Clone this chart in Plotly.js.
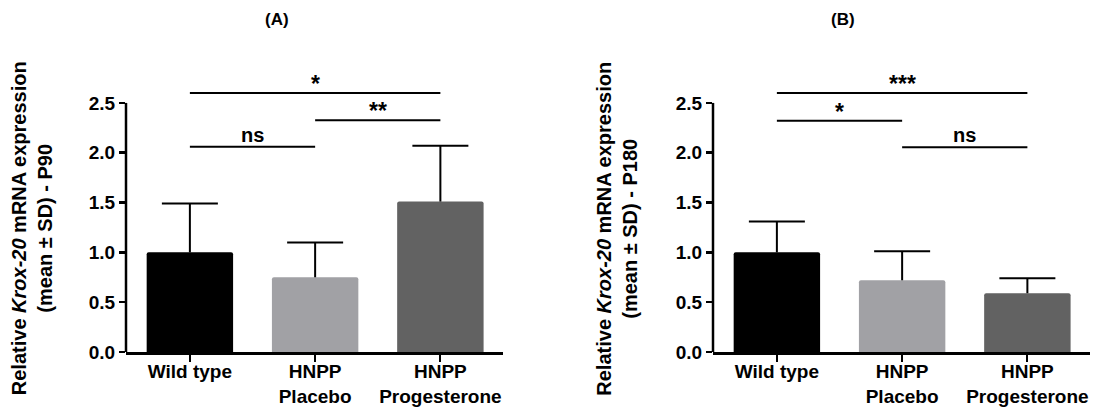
<!DOCTYPE html>
<html>
<head>
<meta charset="utf-8">
<script src="https://cdn.plot.ly/plotly-3.0.1.min.js"></script>
<style>html,body{margin:0;padding:0;background:#fff;}#chart{width:1093px;height:408px;}</style>
</head>
<body>
<div id="chart"></div>
<script>
// ---- data ----
const categories = ['Wild type', 'HNPP<br>Placebo', 'HNPP<br>Progesterone'];
const barColors = ['#000000', '#a1a1a5', '#626262'];

const meanA = [1.0, 0.75, 1.51];
const sdA = [0.49, 0.35, 0.56];
const meanB = [1.0, 0.72, 0.59];
const sdB = [0.31, 0.29, 0.15];

const yTickVals = [0, 0.5, 1.0, 1.5, 2.0, 2.5];
const yTickText = ['0.0', '0.5', '1.0', '1.5', '2.0', '2.5'];

// significance brackets (category index from/to, height in y units, label)
const sigFromA = [0, 1, 0];
const sigToA = [2, 2, 1];
const sigYA = [2.60, 2.325, 2.06];
const sigLabelA = ['*', '**', 'ns'];

const sigFromB = [0, 0, 1];
const sigToB = [2, 1, 2];
const sigYB = [2.60, 2.32, 2.055];
const sigLabelB = ['***', '*', 'ns'];

const panelTitles = ['(A)', '(B)'];
const yTitles = [
  'Relative <i>Krox-20</i> mRNA expression<br>(mean ± SD) - P90',
  'Relative <i>Krox-20</i> mRNA expression<br>(mean ± SD) - P180'
];

// ---- build ----
const FONT = 'Liberation Sans, Arial, sans-serif';
const traces = [];
const shapes = [];
const annotations = [];

function addPanel(mean, sd, xa, ya, sigFrom, sigTo, sigY, sigLabel) {
  const zeros = mean.map(() => 0);
  const tops = mean.map((m, i) => m + sd[i]);
  traces.push({
    type: 'bar', x: categories, y: mean, xaxis: xa, yaxis: ya,
    width: 0.69,
    marker: {color: barColors, line: {width: 0}, cornerradius: 2},
    error_y: {type: 'data', symmetric: false, array: sd, arrayminus: zeros,
              color: '#000', thickness: 2, width: 0},
    hoverinfo: 'y', showlegend: false
  });
  traces.push({
    type: 'scatter', mode: 'markers', x: categories, y: tops, xaxis: xa, yaxis: ya,
    marker: {symbol: 'line-ew-open', size: 40, line: {width: 2, color: '#000'}, color: '#000'},
    hoverinfo: 'skip', showlegend: false, cliponaxis: false
  });
  const xr = xa === 'x' ? 'x' : 'x2';
  const yr = ya === 'y' ? 'y' : 'y2';
  // y axis line from 0 to 2.5
  shapes.push({type: 'line', xref: xr + ' domain', yref: yr, x0: 0, x1: 0, y0: 0, y1: 2.5,
               line: {color: '#000', width: 2.5}});
  for (let i = 0; i < sigFrom.length; i++) {
    shapes.push({type: 'line', xref: xr, yref: yr, x0: sigFrom[i], x1: sigTo[i], y0: sigY[i], y1: sigY[i],
                 line: {color: '#000', width: 2}});
    const star = sigLabel[i].indexOf('*') >= 0;
    annotations.push({xref: xr, yref: yr, x: (sigFrom[i] + sigTo[i]) / 2, y: sigY[i],
      text: sigLabel[i], showarrow: false, xanchor: 'center', yanchor: 'bottom',
      yshift: star ? -6 : -1,
      font: {family: FONT, size: star ? 23 : 20, color: '#000', weight: 'bold'}});
  }
}

addPanel(meanA, sdA, 'x', 'y', sigFromA, sigToA, sigYA, sigLabelA);
addPanel(meanB, sdB, 'x2', 'y2', sigFromB, sigToB, sigYB, sigLabelB);

// panel titles
annotations.push({xref: 'paper', yref: 'paper', x: 263 / 1093, y: 1, yanchor: 'top', yshift: 73,
  text: panelTitles[0], showarrow: false, font: {family: FONT, size: 17, color: '#000', weight: 'bold'}});
annotations.push({xref: 'paper', yref: 'paper', x: 857 / 1093, y: 1, yanchor: 'top', yshift: 73,
  text: panelTitles[1], showarrow: false, font: {family: FONT, size: 17, color: '#000', weight: 'bold'}});

// y titles
annotations.push({xref: 'paper', yref: 'paper', x: 31.5 / 1093, y: 0.455, xanchor: 'center', yanchor: 'middle',
  textangle: -90, text: yTitles[0], showarrow: false,
  font: {family: FONT, size: 20, color: '#000', weight: 'bold'}});
annotations.push({xref: 'paper', yref: 'paper', x: 617 / 1093, y: 0.455, xanchor: 'center', yanchor: 'middle',
  textangle: -90, text: yTitles[1], showarrow: false,
  font: {family: FONT, size: 20, color: '#000', weight: 'bold'}});

const xAxisCommon = {
  type: 'category', range: [-0.51, 2.5], showline: true, linecolor: '#000', linewidth: 2.5,
  ticks: 'outside', ticklen: 7, tickwidth: 2, tickcolor: '#000', showgrid: false, zeroline: false,
  ticklabelstandoff: -6,
  tickfont: {family: FONT, size: 19, color: '#000', weight: 'bold'}, fixedrange: true
};
const yAxisCommon = {
  range: [0, 2.72], showline: false, ticks: 'outside', ticklen: 6, tickwidth: 2.5, tickcolor: '#000',
  tickvals: yTickVals, ticktext: yTickText, showgrid: false, zeroline: false,
  tickfont: {family: FONT, size: 19, color: '#000', weight: 'bold'}, fixedrange: true
};

const layout = {
  width: 1093, height: 408,
  margin: {l: 0, r: 0, t: 81, b: 56},
  paper_bgcolor: '#fff', plot_bgcolor: '#fff',
  showlegend: false, barmode: 'group',
  xaxis: Object.assign({}, xAxisCommon, {domain: [126 / 1093, 503 / 1093], anchor: 'y'}),
  yaxis: Object.assign({}, yAxisCommon, {anchor: 'x'}),
  xaxis2: Object.assign({}, xAxisCommon, {domain: [713 / 1093, 1090 / 1093], anchor: 'y2'}),
  yaxis2: Object.assign({}, yAxisCommon, {anchor: 'x2'}),
  shapes: shapes,
  annotations: annotations
};

Plotly.newPlot('chart', traces, layout, {displayModeBar: false, staticPlot: true});
</script>
</body>
</html>
